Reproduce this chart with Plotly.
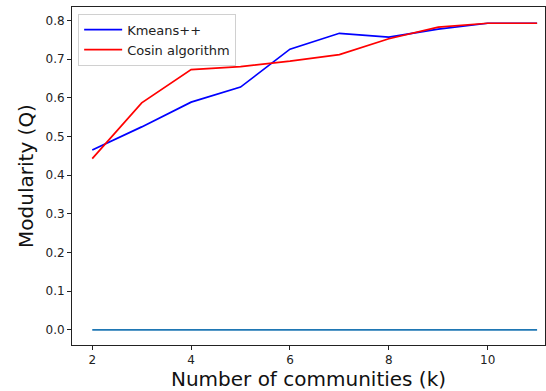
import plotly.graph_objects as go

k = [2, 3, 4, 5, 6, 7, 8, 9, 10, 11]
kmeans = [0.465, 0.525, 0.589, 0.628, 0.726, 0.767, 0.757, 0.778, 0.793, 0.793]
cosin = [0.443, 0.587, 0.673, 0.681, 0.695, 0.712, 0.753, 0.783, 0.793, 0.793]
baseline = [0, 0, 0, 0, 0, 0, 0, 0, 0, 0]

fig = go.Figure()
fig.add_trace(go.Scatter(x=k, y=kmeans, mode="lines", name="Kmeans++",
                         line=dict(color="#0000ff", width=1.7)))
fig.add_trace(go.Scatter(x=k, y=cosin, mode="lines", name="Cosin algorithm",
                         line=dict(color="#ff0000", width=1.7)))
fig.add_trace(go.Scatter(x=k, y=baseline, mode="lines", showlegend=False,
                         line=dict(color="#1f77b4", width=1.7)))

font = "DejaVu Sans"
fig.update_layout(
    width=546, height=391,
    margin=dict(l=72, r=1, t=7, b=46),
    paper_bgcolor="white", plot_bgcolor="white",
    font=dict(family=font, color="#222", size=12),
    legend=dict(x=0.013, y=0.98, xanchor="left", yanchor="top",
                bordercolor="#d0d0d0", borderwidth=1, bgcolor="rgba(255,255,255,0.8)",
                font=dict(family=font, size=13, color="#222"), tracegroupgap=0, itemwidth=38),
    xaxis=dict(range=[1.59, 11.16], tickvals=[2, 4, 6, 8, 10],
               showgrid=False, zeroline=False, showline=True, linecolor="#222",
               linewidth=1, mirror=True, ticks="outside", ticklen=4, tickcolor="#222",
               title=dict(text="Number of communities (k)", font=dict(size=20, family=font, color="#111"), standoff=2),
               tickfont=dict(size=12)),
    yaxis=dict(range=[-0.039, 0.835], tickvals=[0, 0.1, 0.2, 0.3, 0.4, 0.5, 0.6, 0.7, 0.8],
               tickformat=".1f",
               showgrid=False, zeroline=False, showline=True, linecolor="#222",
               linewidth=1, mirror=True, ticks="outside", ticklen=4, tickcolor="#222",
               title=dict(text="Modularity (Q)", font=dict(size=20, family=font, color="#111"), standoff=6),
               tickfont=dict(size=12)),
)

fig.write_html("out.html", config={"displayModeBar": False},
               post_script="document.body.style.margin='0';document.body.style.overflow='hidden';")
